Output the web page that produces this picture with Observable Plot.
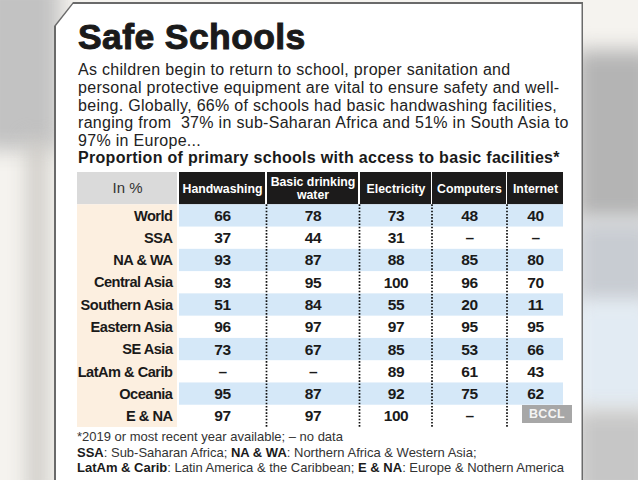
<!DOCTYPE html>
<html>
<head>
<meta charset="utf-8">
<script src="https://cdn.jsdelivr.net/npm/d3@7"></script>
<script src="https://cdn.jsdelivr.net/npm/@observablehq/plot@0.6"></script>
<style>
  html, body { margin: 0; padding: 0; }
  body { width: 638px; height: 480px; overflow: hidden; position: relative; background: #f5f3ef; font-family: "Liberation Sans", Arial, sans-serif; }
  .blur { position: absolute; filter: blur(10px); }
  .cardBorder { position: absolute; left: 54px; top: 2px; width: 529px; height: 480px; background: #6a6a6a;
    clip-path: polygon(19px 0, 100% 0, 100% 100%, 0 100%, 0 24px); }
  .card { position: absolute; left: 55.5px; top: 3.5px; width: 526px; height: 480px; background: #ffffff;
    clip-path: polygon(18px 0, 100% 0, 100% 100%, 0 100%, 0 23px); }
  #title { position: absolute; left: 78px; top: 17px; font-size: 35.5px; font-weight: bold; color: #1a1a1a; white-space: nowrap; -webkit-text-stroke: 1px #1a1a1a; letter-spacing: 0.4px; }
  #sub { position: absolute; left: 78px; top: 61px; font-size: 16px; line-height: 17.8px; letter-spacing: 0.3px; color: #222; white-space: pre; }
  #head { position: absolute; left: 78px; top: 149px; font-size: 16px; letter-spacing: 0.3px; font-weight: bold; color: #1a1a1a; white-space: nowrap; }
  #chart { position: absolute; left: 0; top: 165px; }
  #foot { position: absolute; left: 77px; top: 429px; font-size: 13px; line-height: 15.6px; color: #333; white-space: nowrap; }
  #foot b { color: #1a1a1a; }
  #bccl { position: absolute; left: 522px; top: 405px; width: 50px; height: 18px; background: rgba(160,160,160,0.92); color: #f4f4f4; font-weight: bold; font-size: 12.5px; line-height: 18px; text-align: center; letter-spacing: 0.3px; }
</style>
</head>
<body>
<div class="blur" style="left:-20px; top:-20px; width:80px; height:170px; background:#c2c2c2;"></div>
<div class="blur" style="left:28px; top:140px; width:18px; height:360px; background:#c9c7c2;"></div>
<div class="blur" style="left:575px; top:50px; width:80px; height:170px; background:#b4b4b4;"></div>
<div class="blur" style="left:575px; top:220px; width:80px; height:90px; background:#c8ccd2;"></div>
<div class="blur" style="left:575px; top:300px; width:80px; height:110px; background:#e2ebf3;"></div>
<div class="blur" style="left:575px; top:410px; width:80px; height:90px; background:#c6c6c6;"></div>
<div class="cardBorder"></div>
<div class="card"></div>
<div id="title"></div>
<div id="sub"></div>
<div id="head"></div>
<div id="chart"></div>
<div id="foot"></div>
<div id="bccl">BCCL</div>
<script>
// ---- data ----
const title = "Safe Schools";
const subtitleLines = [
  "As children begin to return to school, proper sanitation and",
  "personal protective equipment are vital to ensure safety and well-",
  "being. Globally, 66% of schools had basic handwashing facilities,",
  "ranging from  37% in sub-Saharan Africa and 51% in South Asia to",
  "97% in Europe..."
];
const tableTitle = "Proportion of primary schools with access to basic facilities*";
const unitLabel = "In %";
const regions = ["World", "SSA", "NA & WA", "Central Asia", "Southern Asia", "Eastern Asia", "SE Asia", "LatAm & Carib", "Oceania", "E & NA"];
const columns = ["Handwashing", "Basic drinking\nwater", "Electricity", "Computers", "Internet"];
const handwashing   = [66, 37, 93, 93, 51, 96, 73, null, 95, 97];
const drinkingWater = [78, 44, 87, 95, 84, 97, 67, null, 87, 97];
const electricity   = [73, 31, 88, 100, 55, 97, 85, 89, 92, 100];
const computers     = [48, null, 85, 96, 20, 95, 53, 61, 75, null];
const internet      = [40, null, 80, 70, 11, 95, 66, 43, 62, null];
const footnotes = [
  [["", "*2019 or most recent year available; \u2013 no data"]],
  [["b", "SSA"], ["", ": Sub-Saharan Africa; "], ["b", "NA & WA"], ["", ": Northern Africa & Western Asia;"]],
  [["b", "LatAm & Carib"], ["", ": Latin America & the Caribbean; "], ["b", "E & NA"], ["", ": Europe & Nothern America"]]
];
const series = [handwashing, drinkingWater, electricity, computers, internet];

// ---- text blocks ----
document.getElementById("title").textContent = title;
document.getElementById("sub").textContent = subtitleLines.join("\n");
document.getElementById("head").textContent = tableTitle;
const foot = document.getElementById("foot");
footnotes.forEach((line, i) => {
  if (i) foot.appendChild(document.createElement("br"));
  line.forEach(([tag, t]) => {
    const el = tag ? document.createElement("b") : document.createElement("span");
    el.textContent = t; foot.appendChild(el);
  });
});

// ---- layout (column widths in px) ----
const colWidths = [100, 86, 91, 71, 74, 56];
const gaps = [2, 2, 2, 1, 1];
const edges = [];
let pos = 0;
colWidths.forEach((w, i) => { edges.push([pos, pos + w]); pos += w + (gaps[i] || 0); });
const total = edges[edges.length - 1][1];
const headH = 1.45;
const n = regions.length;

const headerCells = columns.map((c, i) => ({c, x1: edges[i + 1][0], x2: edges[i + 1][1], xc: (edges[i + 1][0] + edges[i + 1][1]) / 2}));
const stripes = regions.map((r, i) => ({i})).filter(d => d.i % 2 === 0);
const dividers = columns.slice(0, -1).map((c, i) => (edges[i + 1][1] + edges[i + 2][0]) / 2);
const cells = [];
regions.forEach((r, ri) => series.forEach((s, ci) => cells.push({
  r: ri, xc: headerCells[ci].xc, v: s[ri] == null ? "\u2013" : String(s[ri])
})));

const font = "'Liberation Sans', Arial, sans-serif";

const plot = Plot.plot({
  width: 638, height: 270, margin: 0,
  style: {background: "transparent", overflow: "visible"},
  x: {domain: [0, total], range: [77, 77 + total], axis: null},
  y: {domain: [-headH, n], range: [7, 262], axis: null},
  marks: [
    Plot.rect([0], {x1: edges[0][0], x2: edges[0][1], y1: -headH, y2: 0, fill: "#dadada"}),
    Plot.rect(headerCells, {x1: "x1", x2: "x2", y1: -headH, y2: 0, fill: "#1c1b1b"}),
    Plot.rect([0], {x1: edges[0][0], x2: edges[0][1], y1: 0, y2: n, fill: "#fcefe0"}),
    Plot.rect(stripes, {x1: edges[1][0], x2: total, y1: d => d.i, y2: d => d.i + 1, fill: "#d5e8f8"}),
    Plot.ruleX(dividers, {y1: 0, y2: n, stroke: "#111", strokeWidth: 1.7, strokeDasharray: "1.6 1.6"}),
    Plot.text([unitLabel], {x: (edges[0][0] + edges[0][1]) / 2, y: -headH / 2, text: d => d, fill: "#333", fontSize: 15, fontFamily: font}),
    Plot.text(headerCells, {x: "xc", y: -headH / 2, text: "c", fill: "#fff", fontSize: 12.3, fontWeight: "bold", fontFamily: font, lineHeight: 1.05}),
    Plot.text(regions, {x: edges[0][1] - 5, y: (d, i) => i + 0.5, text: d => d, textAnchor: "end", fill: "#1a1a1a", fontSize: 14.6, fontWeight: "bold", fontFamily: font}),
    Plot.text(cells, {x: "xc", y: d => d.r + 0.5, text: "v", fill: "#1a1a1a", fontSize: 15.5, fontWeight: "bold", fontFamily: font})
  ]
});
// tighten letter spacing of row labels and values (condensed look of the original)
const textGroups = d3.select(plot).selectAll('g[aria-label="text"]').nodes();
if (textGroups.length >= 4) {
  textGroups[2].style.letterSpacing = "-0.5px";
  textGroups[3].style.letterSpacing = "-0.4px";
}
document.getElementById("chart").appendChild(plot);
</script>
</body>
</html>
